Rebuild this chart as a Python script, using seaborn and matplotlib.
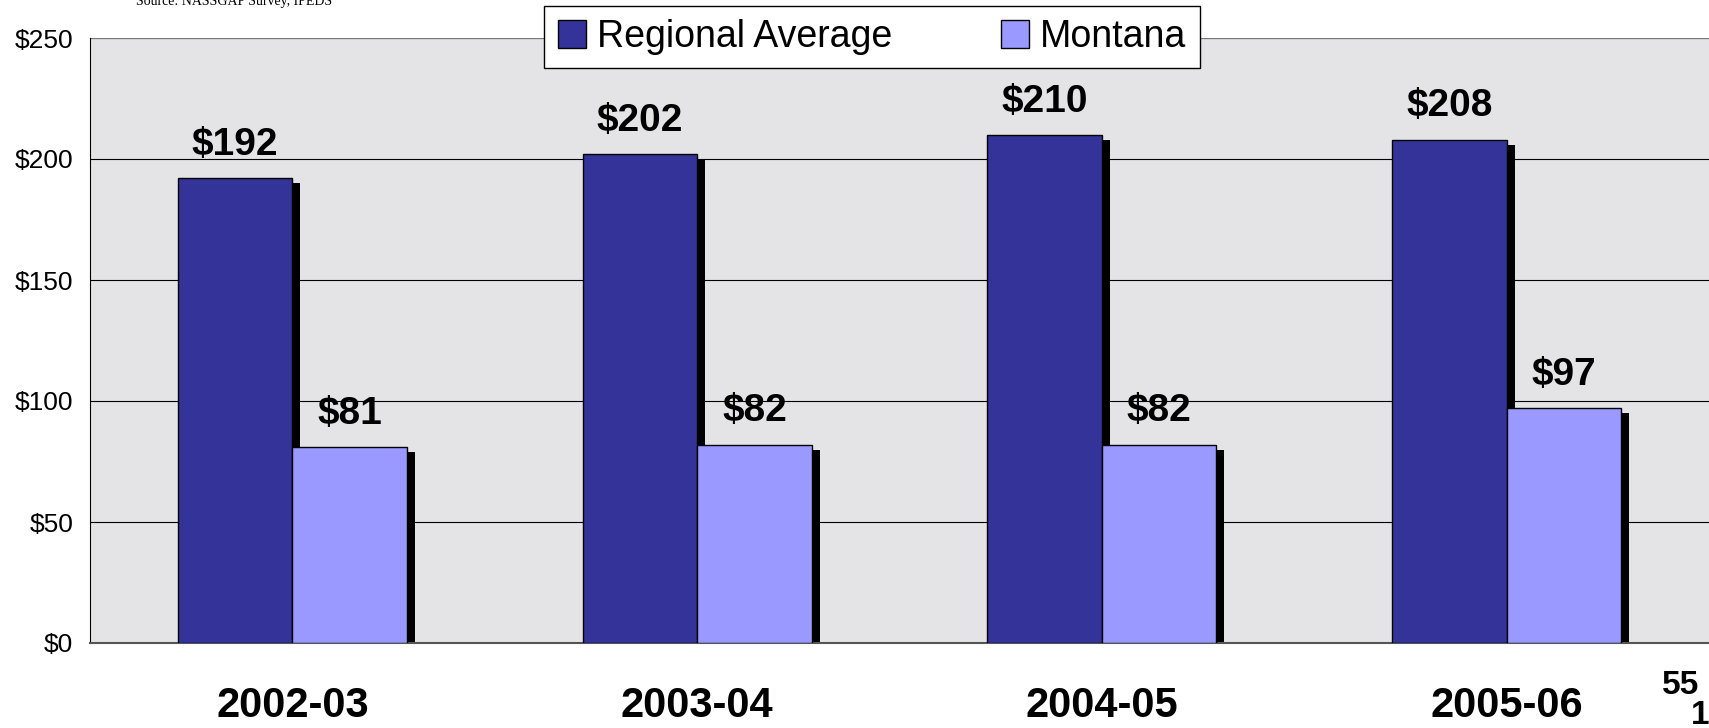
import matplotlib
matplotlib.use("Agg")
import matplotlib.pyplot as plt
import matplotlib.transforms as mtransforms
from matplotlib.patches import Rectangle
import pandas as pd
import seaborn as sns

years = ["2002-03", "2003-04", "2004-05", "2005-06"]
regional = [192, 202, 210, 208]
montana = [81, 82, 82, 97]
series_names = ["Regional Average", "Montana"]
y_ticks = [0, 50, 100, 150, 200, 250]

DARK = "#333399"
LIGHT = "#9999FF"

df = pd.DataFrame({
    "year": years * 2,
    "value": regional + montana,
    "series": [series_names[0]] * len(years) + [series_names[1]] * len(years),
})

sns.set_style("white")
plt.rcParams["font.family"] = ["Liberation Sans", "DejaVu Sans"]
plt.rcParams["text.color"] = "black"
plt.rcParams["xtick.color"] = "black"
plt.rcParams["ytick.color"] = "black"

fig = plt.figure(figsize=(17.09, 7.28), dpi=100)
ax = fig.add_axes([90 / 1709, 1 - 643 / 728, 1619 / 1709, 605 / 728])
ax.set_facecolor("#e4e4e6")

sns.barplot(data=df, x="year", y="value", hue="series", palette=[DARK, LIGHT],
            width=0.566, edgecolor="black", linewidth=1, saturation=1, ax=ax, zorder=3)

# drop shadows behind each bar
shift = mtransforms.ScaledTranslation(0.08, -0.05, fig.dpi_scale_trans)
for p in list(ax.patches):
    if p.get_height() <= 0:
        continue
    sh = Rectangle((p.get_x(), p.get_y()), p.get_width(), p.get_height(),
                   facecolor="black", edgecolor="none",
                   transform=ax.transData + shift, zorder=2)
    ax.add_patch(sh)

# value labels
for container in ax.containers:
    ax.bar_label(container, labels=[f"${v:.0f}" for v in container.datavalues],
                 padding=11, fontsize=28, fontweight="bold", color="black", zorder=5)

ax.set_xlim(-0.5, len(years) - 0.5)
ax.set_ylim(0, 250)
ax.set_yticks(y_ticks)
ax.set_yticklabels([f"${v}" for v in y_ticks], fontsize=19)
ax.yaxis.grid(True, color="black", linewidth=0.8, zorder=1)
ax.set_axisbelow(True)

ax.set_xticks(range(len(years)))
ax.set_xticklabels(years, fontsize=30, fontweight="bold")
ax.tick_params(axis="x", which="major", length=0, pad=31)
ax.set_xticks([i - 0.5 for i in range(len(years))], minor=True)
ax.tick_params(axis="x", which="minor", length=12, width=1, color="black", direction="out")
ax.tick_params(axis="y", length=8, width=1, color="#555555", direction="out", pad=4)
ax.set_xlabel("")
ax.set_ylabel("")

for side in ["top", "right"]:
    ax.spines[side].set_visible(False)
ax.spines["left"].set_color("black")
ax.spines["bottom"].set_color("#555555")
ax.spines["bottom"].set_linewidth(1.5)
ax.axhline(250, color="#777777", linewidth=1.5, zorder=1)

leg = ax.legend(loc="upper center", bbox_to_anchor=(872 / 1709, 722 / 728),
                bbox_transform=fig.transFigure, borderaxespad=0, ncol=2, fontsize=27,
                frameon=True, fancybox=False, edgecolor="black", framealpha=1,
                handlelength=0.75, handleheight=0.75, columnspacing=2.9,
                handletextpad=0.3, borderpad=0.35)
leg.get_frame().set_linewidth(1)
leg.set_zorder(10)

fig.text(136 / 1709, 1 - 2 / 728, "Source: NASSGAP Survey, IPEDS", fontsize=10,
         family="Liberation Serif", va="center", ha="left")
fig.text(1681 / 1709, 1 - 685 / 728, "55", fontsize=24, fontweight="bold",
         ha="center", va="center")
fig.text(1700 / 1709, 1 - 716 / 728, "1", fontsize=24, fontweight="bold",
         ha="center", va="center")

fig.savefig("out.png", dpi=100)
